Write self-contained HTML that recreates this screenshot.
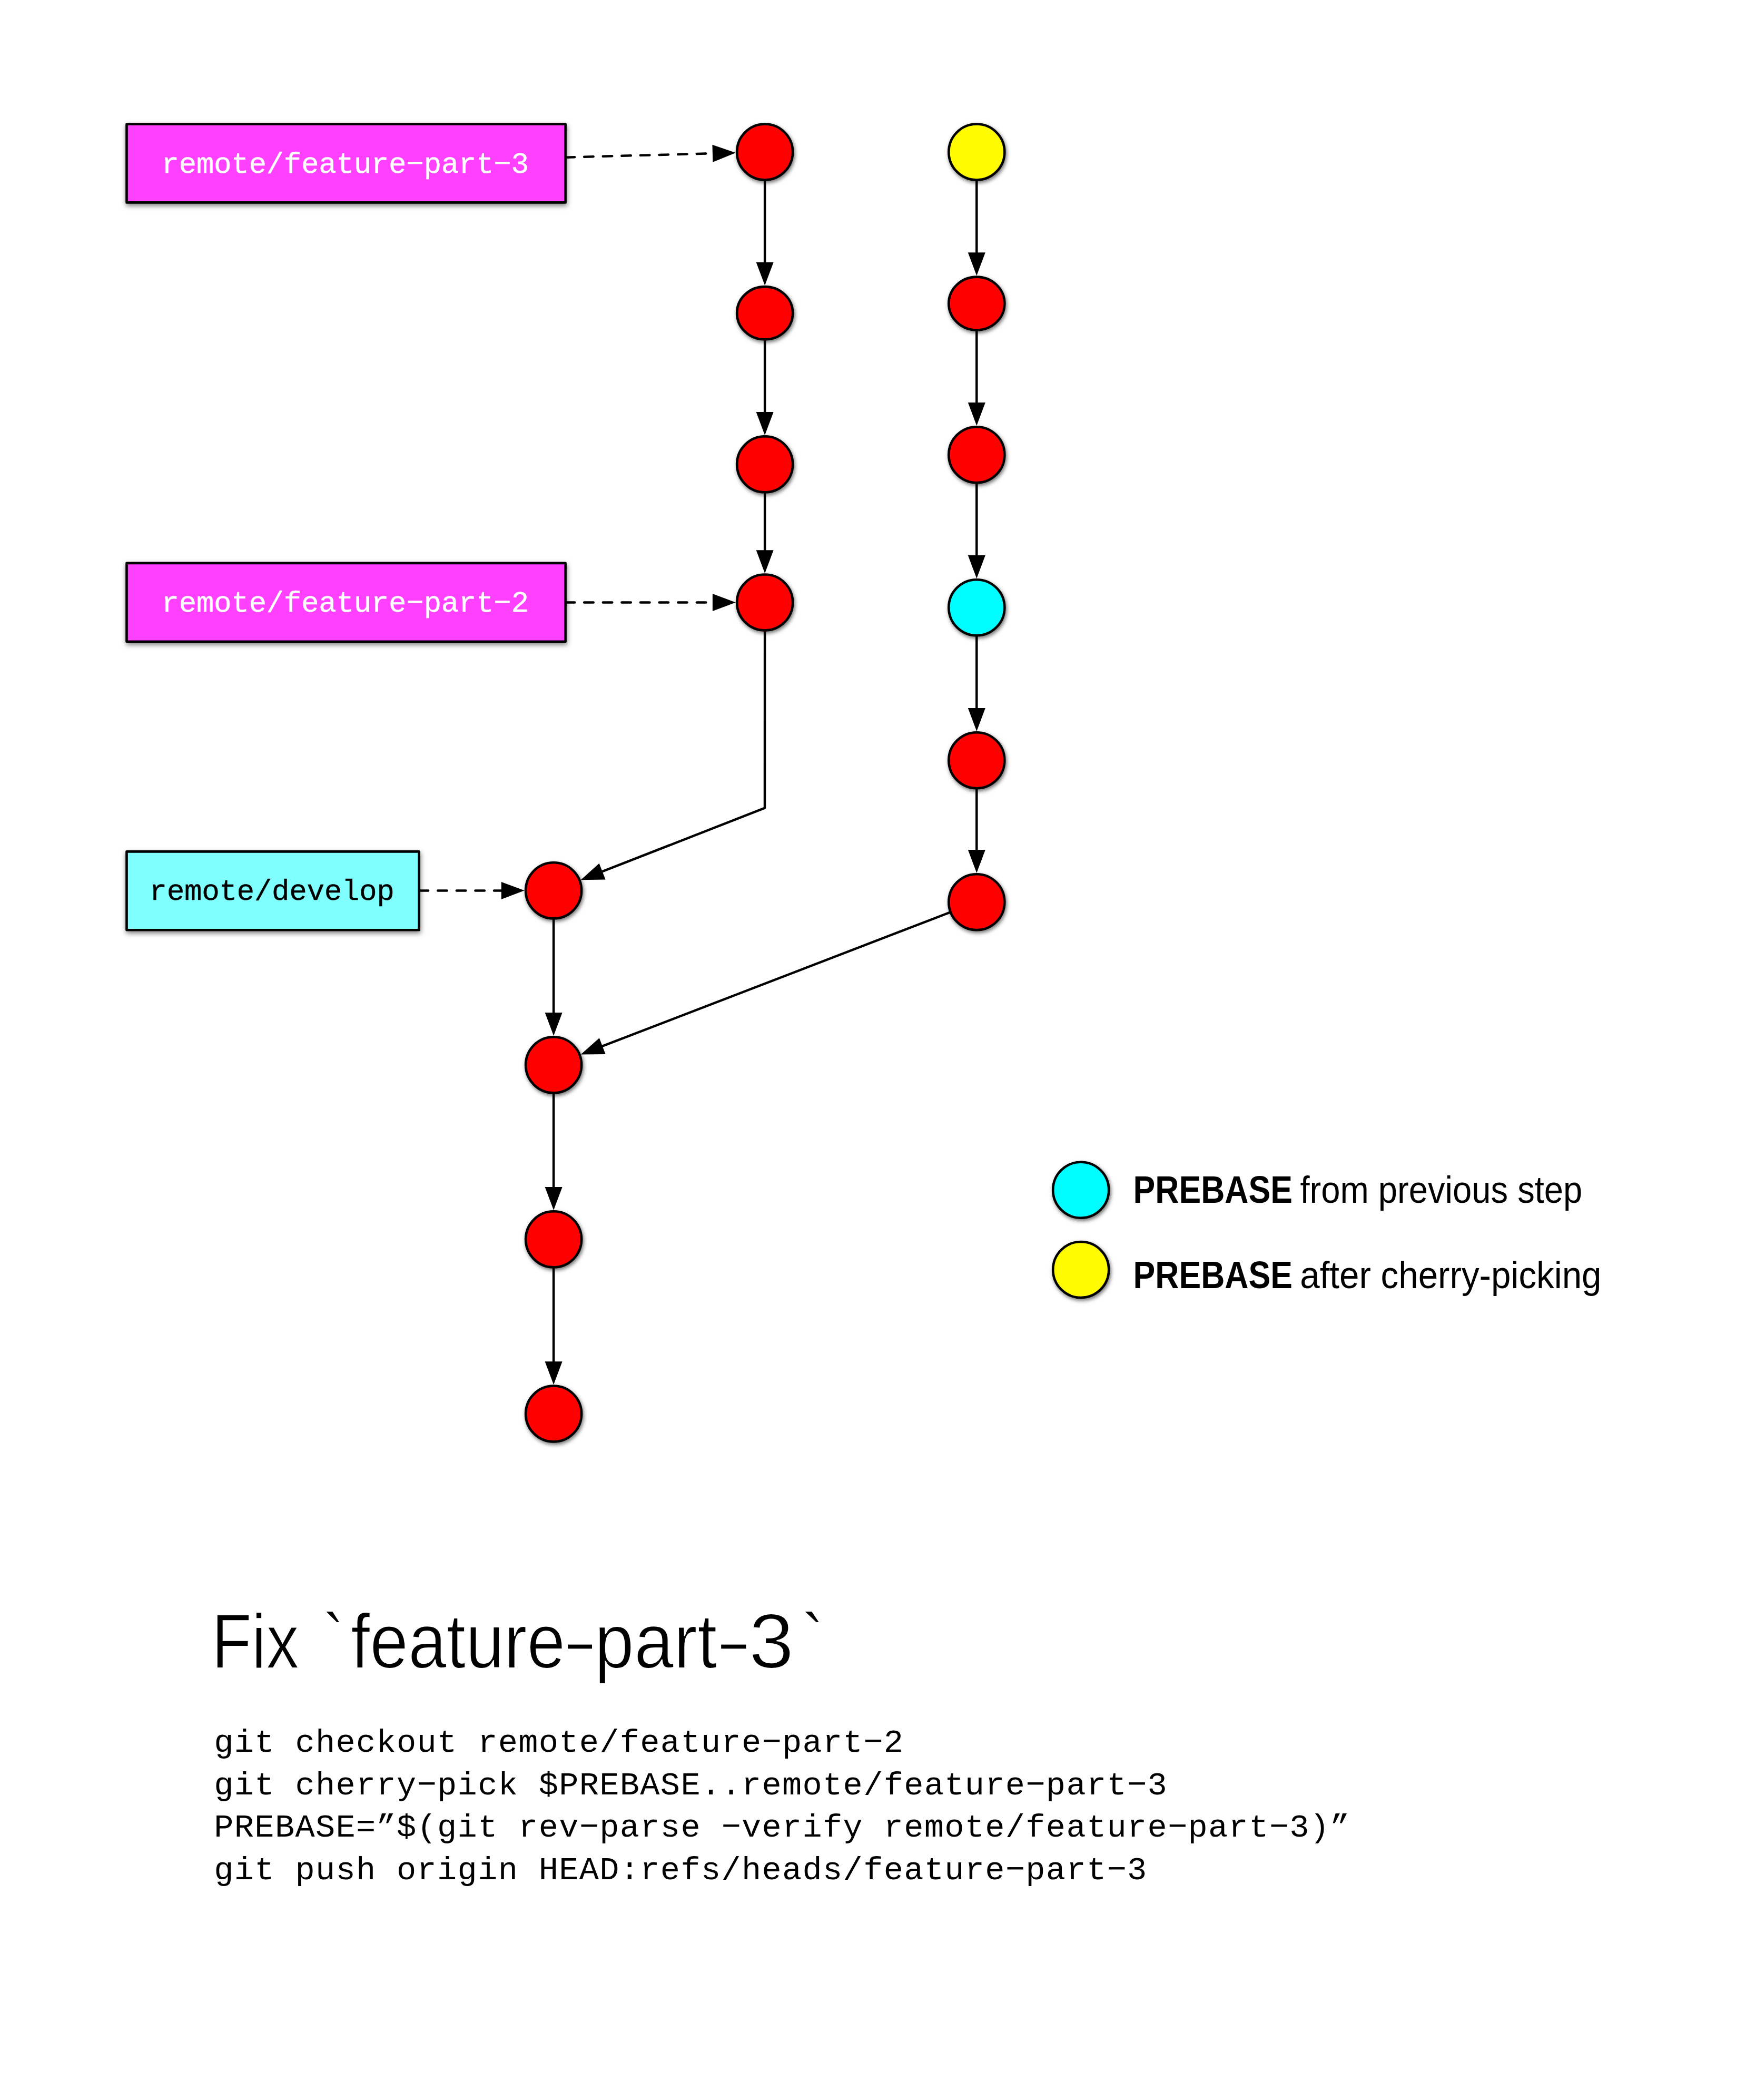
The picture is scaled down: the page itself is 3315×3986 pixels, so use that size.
<!DOCTYPE html>
<html><head><meta charset="utf-8"><style>
html,body{margin:0;padding:0;background:#fff;}
svg{display:block;}
.box{font-family:"Liberation Mono",monospace;font-size:56px;letter-spacing:-0.4px;stroke-width:0.4px;}
.leg{font-family:"Liberation Sans",sans-serif;font-size:72px;fill:#000;}
.b{font-weight:bold;}
.h1{font-family:"Liberation Sans",sans-serif;font-size:146px;fill:#000;stroke:#fff;stroke-width:2px;}
.code{font-family:"Liberation Mono",monospace;font-size:62px;letter-spacing:1.32px;fill:#000;}
</style></head><body>
<svg width="3315" height="3986" viewBox="0 0 3315 3986">
<defs><filter id="sh" x="-30%" y="-30%" width="160%" height="160%"><feDropShadow dx="2" dy="3.5" stdDeviation="3.5" flood-color="#000" flood-opacity="0.55"/></filter><filter id="shr" x="-10%" y="-30%" width="120%" height="160%"><feDropShadow dx="1" dy="4" stdDeviation="5" flood-color="#000" flood-opacity="0.5"/></filter></defs>
<path d="M1452.15 541.80 L1435.65 497.80 L1468.65 497.80 Z" fill="#000"/>
<path d="M1452.15 288.50 L1452.15 499.80" fill="none" stroke="#000" stroke-width="4.50" stroke-linejoin="round"/>
<path d="M1452.15 826.00 L1435.65 782.00 L1468.65 782.00 Z" fill="#000"/>
<path d="M1452.15 594.20 L1452.15 784.00" fill="none" stroke="#000" stroke-width="4.50" stroke-linejoin="round"/>
<path d="M1452.15 1088.20 L1435.65 1044.20 L1468.65 1044.20 Z" fill="#000"/>
<path d="M1452.15 881.30 L1452.15 1046.20" fill="none" stroke="#000" stroke-width="4.50" stroke-linejoin="round"/>
<path d="M1854.30 523.30 L1837.80 479.30 L1870.80 479.30 Z" fill="#000"/>
<path d="M1854.30 288.50 L1854.30 481.30" fill="none" stroke="#000" stroke-width="4.50" stroke-linejoin="round"/>
<path d="M1854.30 807.90 L1837.80 763.90 L1870.80 763.90 Z" fill="#000"/>
<path d="M1854.30 576.00 L1854.30 765.90" fill="none" stroke="#000" stroke-width="4.50" stroke-linejoin="round"/>
<path d="M1854.30 1097.90 L1837.80 1053.90 L1870.80 1053.90 Z" fill="#000"/>
<path d="M1854.30 863.20 L1854.30 1055.90" fill="none" stroke="#000" stroke-width="4.50" stroke-linejoin="round"/>
<path d="M1854.30 1387.90 L1837.80 1343.90 L1870.80 1343.90 Z" fill="#000"/>
<path d="M1854.30 1153.20 L1854.30 1345.90" fill="none" stroke="#000" stroke-width="4.50" stroke-linejoin="round"/>
<path d="M1854.30 1656.90 L1837.80 1612.90 L1870.80 1612.90 Z" fill="#000"/>
<path d="M1854.30 1443.20 L1854.30 1614.90" fill="none" stroke="#000" stroke-width="4.50" stroke-linejoin="round"/>
<path d="M1051.10 1966.00 L1034.60 1922.00 L1067.60 1922.00 Z" fill="#000"/>
<path d="M1051.10 1690.30 L1051.10 1924.00" fill="none" stroke="#000" stroke-width="4.50" stroke-linejoin="round"/>
<path d="M1051.10 2297.00 L1034.60 2253.00 L1067.60 2253.00 Z" fill="#000"/>
<path d="M1051.10 2021.30 L1051.10 2255.00" fill="none" stroke="#000" stroke-width="4.50" stroke-linejoin="round"/>
<path d="M1051.10 2628.20 L1034.60 2584.20 L1067.60 2584.20 Z" fill="#000"/>
<path d="M1051.10 2352.30 L1051.10 2586.20" fill="none" stroke="#000" stroke-width="4.50" stroke-linejoin="round"/>
<path d="M1102.61 1670.18 L1137.59 1638.80 L1149.60 1669.54 Z" fill="#000"/>
<path d="M1452.15 1143.50 L1452.00 1533.70 L1141.73 1654.90" fill="none" stroke="#000" stroke-width="4.50" stroke-linejoin="round"/>
<path d="M1102.71 2001.44 L1137.85 1970.24 L1149.70 2001.03 Z" fill="#000"/>
<path d="M1854.30 1712.20 L1141.91 1986.35" fill="none" stroke="#000" stroke-width="4.50" stroke-linejoin="round"/>
<path d="M1396.87 289.99 L1353.33 307.67 L1352.44 274.68 Z" fill="#000"/>
<path d="M1073.60 298.71 L1354.89 291.12" fill="none" stroke="#000" stroke-width="4.50" stroke-linejoin="round" stroke-dasharray="17.5 18.1" stroke-linecap="round"/>
<path d="M1396.85 1143.49 L1352.85 1159.98 L1352.85 1126.98 Z" fill="#000"/>
<path d="M1073.60 1143.43 L1354.85 1143.48" fill="none" stroke="#000" stroke-width="4.50" stroke-linejoin="round" stroke-dasharray="17.5 18.1" stroke-linecap="round"/>
<path d="M995.80 1690.36 L951.82 1706.90 L951.78 1673.90 Z" fill="#000"/>
<path d="M795.60 1690.56 L953.80 1690.40" fill="none" stroke="#000" stroke-width="4.50" stroke-linejoin="round" stroke-dasharray="17.5 18.1" stroke-linecap="round"/>
<rect x="240.50" y="235.50" width="833.10" height="148.90" fill="#FF40FF" stroke="#000" stroke-width="4.60" stroke-linejoin="round" filter="url(#shr)"/>
<text x="655.05" y="327.55" text-anchor="middle" class="box" fill="#fff" stroke="#fff">remote/feature−part−3</text>
<rect x="240.50" y="1068.90" width="833.10" height="148.90" fill="#FF40FF" stroke="#000" stroke-width="4.60" stroke-linejoin="round" filter="url(#shr)"/>
<text x="655.05" y="1160.95" text-anchor="middle" class="box" fill="#fff" stroke="#fff">remote/feature−part−2</text>
<rect x="240.50" y="1616.40" width="555.10" height="148.90" fill="#80FFFF" stroke="#000" stroke-width="4.60" stroke-linejoin="round" filter="url(#shr)"/>
<text x="516.05" y="1708.45" text-anchor="middle" class="box" fill="#000" stroke="#000">remote/develop</text>
<ellipse cx="1452.15" cy="288.50" rx="53.00" ry="53.00" fill="#FF0000" stroke="#000" stroke-width="4.60" filter="url(#sh)"/>
<ellipse cx="1452.15" cy="594.20" rx="53.00" ry="50.10" fill="#FF0000" stroke="#000" stroke-width="4.60" filter="url(#sh)"/>
<ellipse cx="1452.15" cy="881.30" rx="53.00" ry="53.00" fill="#FF0000" stroke="#000" stroke-width="4.60" filter="url(#sh)"/>
<ellipse cx="1452.15" cy="1143.50" rx="53.00" ry="53.00" fill="#FF0000" stroke="#000" stroke-width="4.60" filter="url(#sh)"/>
<ellipse cx="1854.30" cy="288.50" rx="53.00" ry="53.00" fill="#FFFB00" stroke="#000" stroke-width="4.60" filter="url(#sh)"/>
<ellipse cx="1854.30" cy="576.00" rx="53.00" ry="50.40" fill="#FF0000" stroke="#000" stroke-width="4.60" filter="url(#sh)"/>
<ellipse cx="1854.30" cy="863.20" rx="53.00" ry="53.00" fill="#FF0000" stroke="#000" stroke-width="4.60" filter="url(#sh)"/>
<ellipse cx="1854.30" cy="1153.20" rx="53.00" ry="53.00" fill="#00FDFF" stroke="#000" stroke-width="4.60" filter="url(#sh)"/>
<ellipse cx="1854.30" cy="1443.20" rx="53.00" ry="53.00" fill="#FF0000" stroke="#000" stroke-width="4.60" filter="url(#sh)"/>
<ellipse cx="1854.30" cy="1712.20" rx="53.00" ry="53.00" fill="#FF0000" stroke="#000" stroke-width="4.60" filter="url(#sh)"/>
<ellipse cx="1051.10" cy="1690.30" rx="53.00" ry="53.00" fill="#FF0000" stroke="#000" stroke-width="4.60" filter="url(#sh)"/>
<ellipse cx="1051.10" cy="2021.30" rx="53.00" ry="53.00" fill="#FF0000" stroke="#000" stroke-width="4.60" filter="url(#sh)"/>
<ellipse cx="1051.10" cy="2352.30" rx="53.00" ry="53.00" fill="#FF0000" stroke="#000" stroke-width="4.60" filter="url(#sh)"/>
<ellipse cx="1051.10" cy="2683.50" rx="53.00" ry="53.00" fill="#FF0000" stroke="#000" stroke-width="4.60" filter="url(#sh)"/>
<ellipse cx="2052.20" cy="2258.70" rx="53.00" ry="53.00" fill="#00FDFF" stroke="#000" stroke-width="4.60" filter="url(#sh)"/>
<ellipse cx="2052.20" cy="2410.00" rx="53.00" ry="53.00" fill="#FFFB00" stroke="#000" stroke-width="4.60" filter="url(#sh)"/>
<text transform="translate(2151.50 2283.10) scale(0.8690 1)" class="leg b">PREBASE</text><text transform="translate(2468.40 2283.10) scale(0.9050 1)" class="leg">from previous step</text><text transform="translate(2151.50 2445.20) scale(0.8690 1)" class="leg b">PREBASE</text><text transform="translate(2468.20 2445.20) scale(0.9350 1)" class="leg">after cherry-picking</text>
<text transform="translate(401.81 3166.00) scale(0.8528 1)" class="h1">Fix</text><text transform="translate(612.87 3166.00) scale(0.8481 1)" class="h1">`</text><text transform="translate(1521.50 3166.00) scale(0.9000 1)" class="h1">`</text><text transform="translate(665.91 3166.00) scale(0.8966 1)" class="h1">feature</text><text transform="translate(1128.82 3166.00) scale(0.9252 1)" class="h1">part</text><text transform="translate(1421.97 3166.00) scale(1.0478 1)" class="h1">3</text><rect x="1078.1" y="3121.6" width="45.9" height="7.7"/><rect x="1369.2" y="3121.6" width="47.2" height="7.7"/>
<text x="406.3" y="3325.3" class="code">git checkout remote/feature−part−2</text><text x="406.3" y="3405.7" class="code">git cherry−pick $PREBASE..remote/feature−part−3</text><text x="406.3" y="3486.1" class="code">PREBASE=”$(git rev−parse −verify remote/feature−part−3)”</text><text x="406.3" y="3566.5" class="code">git push origin HEAD:refs/heads/feature−part−3</text>
</svg></body></html>
